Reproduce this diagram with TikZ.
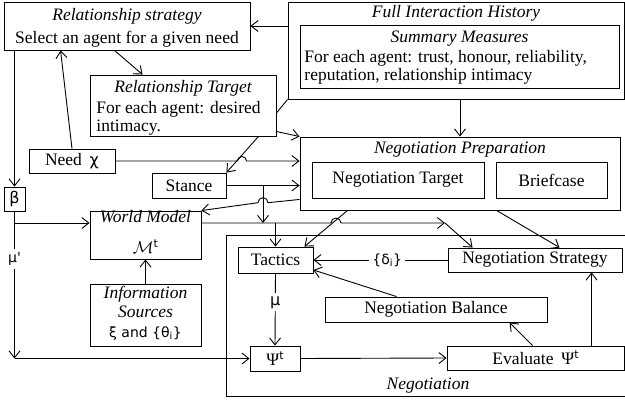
\documentclass[tikz,border=0pt]{standalone}
\usepackage{fontspec}
\setmainfont{Liberation Serif}
\newfontfamily\gr{DejaVu Sans}
\usetikzlibrary{arrows.meta}
\begin{document}
\begin{tikzpicture}[x=1pt,y=-1pt,line width=0.9pt,
  font=\fontsize{17.5}{20}\selectfont,
  box/.style={draw,rectangle,inner sep=0pt,line width=0.9pt},
  arr/.style={-{Straight Barb[length=7pt,width=11pt]}},
  txt/.style={inner sep=0pt,anchor=base},
  ltxt/.style={inner sep=0pt,anchor=base west},
  lab/.style={fill=white,inner sep=3pt}]
\newcommand\grs{\gr\fontsize{14}{16}\selectfont}
\newcommand\grl{\gr\fontsize{16}{18}\selectfont}
\newcommand\supt{\raisebox{6pt}{\gr\fontsize{11}{11}\selectfont t}}
\useasboundingbox (0,0) rectangle (625,400);
\clip (0,0) rectangle (625,400);
\fill[white] (0,0) rectangle (625,400);

% boxes
\node[box,minimum width=246pt,minimum height=48pt] (rs) at (127,26) {};
\node[box,minimum width=336pt,minimum height=97pt] (hist) at (456,50.5) {};
\node[box,minimum width=319pt,minimum height=63pt] (sum) at (459.5,56.5) {};
\node[box,minimum width=186pt,minimum height=61pt] (rt) at (183,105.5) {};
\node[box,minimum width=320pt,minimum height=73pt] (prep) at (460,173.5) {};
\node[box,minimum width=172pt,minimum height=36pt] (ntarget) at (398,180) {Negotiation Target};
\node[box,minimum width=111pt,minimum height=36pt] (brief) at (551.5,180) {Briefcase};
\node[box,minimum width=86pt,minimum height=24pt] (need) at (72,161) {Need\;\,{\grl χ}};
\node[box,minimum width=74pt,minimum height=25pt] (stance) at (189,185.5) {Stance};
\node[box,minimum width=21pt,minimum height=24pt] (beta) at (14.5,199) {\grl β};
\node[box,minimum width=111pt,minimum height=48pt] (wm) at (145.5,235) {};
\node[box,minimum width=111pt,minimum height=62pt] (info) at (145.5,315) {};
\node[box,minimum width=404pt,minimum height=161pt] (neg) at (428,315.5) {};
\node[box,minimum width=75pt,minimum height=26pt] (tactics) at (275.5,260) {Tactics};
\node[box,minimum width=174pt,minimum height=24pt] (ns) at (535,260) {Negotiation Strategy};
\node[box,minimum width=222pt,minimum height=25pt] (nb) at (436,309.5) {Negotiation Balance};
\node[box,minimum width=50pt,minimum height=25pt] (psi) at (275,358.5) {Ψ\supt};
\node[box,minimum width=177pt,minimum height=24pt] (eval) at (535.5,358) {Evaluate\;\,Ψ\supt};

% texts
\node[txt] (t1) at (127,20) {\itshape Relationship strategy};
\node[txt] (t2) at (127,43) {Select an agent for a given need};
\node[txt] (t3) at (456,17) {\itshape Full Interaction History};
\node[txt] (t4) at (459.5,42) {\itshape Summary Measures};
\node[ltxt] (t5) at (304,62) {For each agent: trust, honour, reliability,};
\node[ltxt] (t6) at (304,80) {reputation, relationship intimacy};
\node[txt] (t7) at (183,92) {\itshape Relationship Target};
\node[ltxt] (t8) at (96,113) {For each agent: desired};
\node[ltxt] (t9) at (96,131) {intimacy.};
\node[txt] (t10) at (460,153) {\itshape Negotiation Preparation};
\node[txt] (t11) at (145.5,222) {\itshape World Model};
\node[txt] (t12) at (145.5,253) {$\mathcal{M}$\supt};
\node[txt] (t13) at (145.5,298) {\itshape Information};
\node[txt] (t14) at (145.5,317) {\itshape Sources};
\node[txt] (t15) at (145.5,337) {\grs ξ and \{θ\textsubscript{i}\}};
\node[txt] (t16) at (428,389) {\itshape Negotiation};

% connectors
\draw[arr] (hist.west |- rs.east) -- (rs.east);
\draw (hist.south west) -- (rt.east |- 0,113);
\draw[arr] ([xshift=111pt]rs.south west) -- ([xshift=53pt]rt.north west);
\draw[arr] ([yshift=5pt]rt.south east) -- (prep.north west);
\draw[arr] ([xshift=-18pt]rt.south east) -- (stance.north east);
\draw[arr] (need.east) -- (237.5,161) arc[start angle=180,end angle=0,radius=4.5pt] -- (prep.west |- need.east);
\draw[arr] (need.north) -- ([xshift=57pt]rs.south west);
\draw[arr] (rs.south west -| beta.north) -- (beta.north);
\coordinate (mc) at (beta.south |- psi.west);
\draw[arr] (beta.south) -- (mc);
\draw[arr] (mc) -- (psi.west);
\node[lab] (mup) at (beta.south |- 0,259) {\grs μ\textquotesingle};
\draw[arr] (beta.south |- 0,223) -- (wm.west |- 0,223);
\draw[arr] (stance.east) -- (prep.west |- stance.east);
\coordinate (sj) at (263,185.5);
\coordinate (c1) at (445,223);
\draw[arr] (sj) -- (sj |- c1);
\draw[arr] ([yshift=11pt]prep.south west) -- (268,202.7) arc[start angle=0,end angle=180,radius=5pt] -- (wm.north east);
\draw[arr] (wm.east |- c1) -- (331,223) arc[start angle=180,end angle=0,radius=5pt] -- (c1);
\draw[arr] (c1) -- ([xshift=25pt]ns.north west);
\draw[arr] (tactics.north |- c1) -- (tactics.north);
\draw[arr] (prep.north |- hist.south) -- (prep.north);
\draw[arr] ([xshift=48pt]prep.south west) -- ([xshift=-9pt]tactics.north east);
\draw[arr] ([xshift=197pt]prep.south west) -- ([xshift=112pt]ns.north west);
\draw[arr] (ns.west) -- node[lab,pos=0.45] (dl) {\grs\{δ\textsubscript{i}\}} (tactics.east);
\draw[arr] ([xshift=72pt]nb.north west) -- ([yshift=-10pt]tactics.east);
\draw[arr] (tactics.south) -- node[lab,pos=0.4] (mul) {\grl μ} (psi.north);
\draw[arr] (psi.east) -- (eval.west);
\draw[arr] ([xshift=86pt]eval.north west) -- ([xshift=185pt]nb.south west);
\draw[arr] ([xshift=145pt]eval.north west) -- ([xshift=144pt]ns.south west);
\draw[arr] (info.north) -- (wm.south);
\end{tikzpicture}
\end{document}
